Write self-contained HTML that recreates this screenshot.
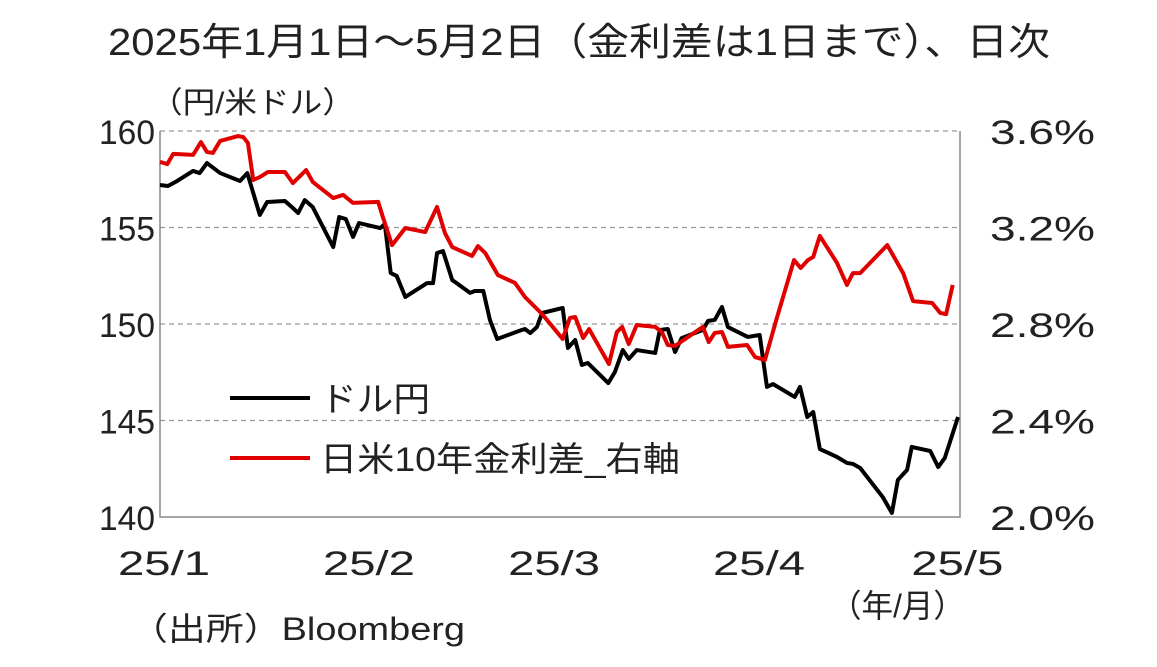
<!DOCTYPE html>
<html><head><meta charset="utf-8"><style>
body{margin:0;background:#fff;}
svg text{font-family:"Liberation Sans","Noto Sans CJK JP",sans-serif;fill:#222;}
</style></head><body>
<svg width="1157" height="662" viewBox="0 0 1157 662" id="chart">
<text x="108" y="55" font-size="38" textLength="942" lengthAdjust="spacingAndGlyphs">2025年1月1日～5月2日（金利差は1日まで）、日次</text>
<text x="150" y="113" font-size="30" textLength="205" lengthAdjust="spacingAndGlyphs">（円/米ドル）</text>
<text x="130" y="640" font-size="32" textLength="335" lengthAdjust="spacingAndGlyphs">（出所）Bloomberg</text>
<text x="830" y="617" font-size="32" textLength="135" lengthAdjust="spacingAndGlyphs">（年/月）</text>
<g id="grid"></g><g id="axes"></g><g id="series"></g>
<g>
<line x1="230" y1="398" x2="310" y2="398" stroke="#000" stroke-width="4"/>
<text x="320" y="411" font-size="34" textLength="110" lengthAdjust="spacingAndGlyphs">ドル円</text>
<line x1="230" y1="458" x2="310" y2="458" stroke="#e00000" stroke-width="4"/>
<text x="320" y="471" font-size="34" textLength="360" lengthAdjust="spacingAndGlyphs">日米10年金利差_右軸</text>
</g>
</svg>
<script>
const usdDays=[0,1.2,2.6,5,6,7.1,9.1,12.1,13.2,15.1,16.2,18.9,20.1,20.9,21.9,23.1,26.2,27.1,28.1,29.2,30.1,33.3,34,34.9,35.8,37.1,40.4,41.3,41.9,42.8,44.2,46.9,47.6,48.9,49.9,51,54.7,55.2,56,57,57.8,60.9,61.7,62.8,63.8,64.7,67.8,68.8,70,70.9,72.1,74.9,75.6,76.8,77.9,78.9,82.1,82.9,83.9,85,85.9,88.9,90.7,91.8,92.7,96,96.8,97.9,98.8,99.8,102.4,103.9,104.8,105.9,109.3,110.7,111.6,113,113.7,116.5,117.7,118.7,120.7];
const usdJpy=[157.20,157.15,157.41,157.93,157.82,158.34,157.82,157.41,157.82,155.65,156.32,156.37,156.01,155.75,156.42,156.06,153.99,155.54,155.44,154.51,155.23,154.97,155.18,152.64,152.49,151.40,152.12,152.12,153.68,153.78,152.28,151.61,151.71,151.71,150.21,149.22,149.69,149.74,149.53,149.84,150.57,150.83,148.76,149.17,147.88,147.98,146.94,147.51,148.65,148.19,148.65,148.50,149.69,149.74,148.55,149.27,149.69,150.16,150.21,150.88,149.84,149.33,149.43,146.74,146.89,146.22,146.74,145.18,145.44,143.52,143.11,142.80,142.75,142.54,141.04,140.21,141.92,142.44,143.63,143.42,142.59,143.06,145.18];
const sprDays=[0,1.1,2,5,6.2,7.1,8,9.1,11.8,12.6,13.3,14.1,15.1,16.3,18.9,20.1,22.1,23.1,26.2,27.7,29.2,33,33.7,35.1,37.1,40.1,41.9,43.1,44.2,47.2,48.1,49.2,51.1,53.7,55.2,57.8,60.9,62,62.8,64,64.9,67.9,69.1,69.9,70.9,72.1,74.9,75.9,76.8,77.9,82.1,83,83.9,85,85.9,88.8,90,91.5,93.3,95.9,96.9,98,98.8,99.8,102.4,103.9,104.8,105.9,110,112.4,113.9,116.8,118,118.9,119.9];
const spread=[3.472,3.463,3.505,3.501,3.554,3.513,3.509,3.559,3.579,3.575,3.550,3.397,3.409,3.430,3.430,3.384,3.438,3.389,3.322,3.335,3.302,3.306,3.244,3.127,3.198,3.181,3.285,3.177,3.119,3.082,3.123,3.094,3.003,2.970,2.912,2.841,2.738,2.825,2.829,2.742,2.779,2.634,2.767,2.788,2.717,2.796,2.788,2.767,2.713,2.709,2.788,2.725,2.763,2.767,2.705,2.713,2.663,2.651,2.825,3.065,3.032,3.065,3.078,3.165,3.053,2.962,3.011,3.011,3.127,3.011,2.895,2.887,2.846,2.841,2.962];
const leftTicks=[140,145,150,155,160];
const rightTicks=["2.0%","2.4%","2.8%","3.2%","3.6%"];
const rightTickVals=[2.0,2.4,2.8,3.2,3.6];
const xTickDays=[0,31,59,90,120];
const xTickLabels=["25/1","25/2","25/3","25/4","25/5"];
const X0=160,X1=960,Y0=517,Y1=131;
const xs=d=>X0+(d/121)*(X1-X0);
const yL=v=>Y0-(v-140)/20*(Y0-Y1);
const yR=v=>Y0-(v-2.0)/1.6*(Y0-Y1);
const NS="http://www.w3.org/2000/svg";
function mk(t,a,p){const e=document.createElementNS(NS,t);for(const k in a)e.setAttribute(k,a[k]);p.appendChild(e);return e;}
const grid=document.getElementById('grid'),axes=document.getElementById('axes'),ser=document.getElementById('series');
leftTicks.forEach((v,i)=>{
  if(i>0){const g=mk('line',{x1:X0,x2:X1,y1:yL(v),y2:yL(v),stroke:'#999','stroke-width':1.2,'stroke-dasharray':'5,4'},grid);
  
  }
  const t=mk('text',{x:155,y:yL(v)+13,'font-size':34,'text-anchor':'end',textLength:56,lengthAdjust:'spacingAndGlyphs'},axes);t.textContent=v;
  
  
});
rightTickVals.forEach((v,i)=>{
  const t=mk('text',{x:990,y:yR(v)+13,'font-size':34,textLength:105,lengthAdjust:'spacingAndGlyphs'},axes);t.textContent=rightTicks[i];
  
  
});
xTickDays.forEach((d,i)=>{
  const t=mk('text',{x:xs(d)-42,y:575,'font-size':34,textLength:92,lengthAdjust:'spacingAndGlyphs'},axes);t.textContent=xTickLabels[i];
  
  
});
const fr=mk('path',{d:`M${X0},${Y1}V${Y0}H${X1}V${Y1}`,fill:'none',stroke:'#888','stroke-width':1.5},axes);


const l1=mk('polyline',{points:usdDays.map((d,i)=>xs(d)+','+yL(usdJpy[i])).join(' '),fill:'none',stroke:'#000','stroke-width':4,'stroke-linejoin':'round'},ser);


const l2=mk('polyline',{points:sprDays.map((d,i)=>xs(d)+','+yR(spread[i])).join(' '),fill:'none',stroke:'#e00000','stroke-width':4,'stroke-linejoin':'round'},ser);


</script>
</body></html>
